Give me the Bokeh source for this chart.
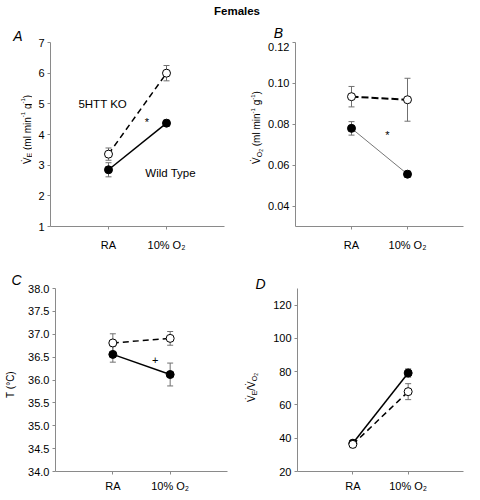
import math
from bokeh.plotting import figure
from bokeh.models import (Range1d, FixedTicker, Whisker, TeeHead, ColumnDataSource,
                          PrintfTickFormatter, Div)
from bokeh.layouts import column, row
from bokeh.core.properties import value
from bokeh.embed import file_html
from bokeh.resources import INLINE

# ---------------- data ----------------
conditions = ["RA", "10% O\u2082"]

ve_wt = [2.85, 4.37]
ve_wt_se = [0.23, 0.10]
ve_ko = [3.36, 6.00]
ve_ko_se = [0.20, 0.25]

vo2_wt = [0.0780, 0.0556]
vo2_wt_se = [0.0033, 0.0015]
vo2_ko = [0.0935, 0.0920]
vo2_ko_se = [0.0050, 0.0105]

t_wt = [36.56, 36.12]
t_wt_se = [0.17, 0.25]
t_ko = [36.81, 36.91]
t_ko_se = [0.20, 0.15]

ratio_wt = [37.0, 79.2]
ratio_wt_se = [1.5, 2.5]
ratio_ko = [36.3, 68.0]
ratio_ko_se = [2.0, 4.8]

ticks_a = [1, 2, 3, 4, 5, 6, 7]
ticks_b = [0.04, 0.06, 0.08, 0.10, 0.12]
ticks_c = [34.0, 34.5, 35.0, 35.5, 36.0, 36.5, 37.0, 37.5, 38.0]
ticks_d = [20, 40, 60, 80, 100, 120]

FONT = "Liberation Sans"
AXC = "#8a8a8a"
ERRC = "#707070"

xpos = list(range(1, len(conditions) + 1))

W = {' ': 278, '(': 333, ')': 333, 'm': 833, 'l': 222, 'i': 222, 'n': 556, 'g': 556,
     '-': 333, '1': 556, 'V': 667, 'E': 667, 'O': 778, '2': 556, 'T': 611, '\u00b0': 400,
     'C': 722, '/': 278, '\u0307': 0}


def tw(s, size):
    return sum(W.get(c, 556) for c in s) / 1000.0 * size


def label_fig(width, height):
    """A frame-only figure whose data units are pixels; holds axis titles and panel letters."""
    p = figure(width=width, height=height, output_backend="svg", toolbar_location=None,
               title=None, frame_align=False,
               x_range=Range1d(0, width), y_range=Range1d(0, height),
               x_axis_location=None, y_axis_location=None,
               min_border_left=0, min_border_right=0, min_border_top=0, min_border_bottom=0)
    p.outline_line_color = None
    p.xgrid.visible = False
    p.ygrid.visible = False
    p.border_fill_color = "white"
    p.background_fill_color = "white"
    return p


def vlabel(p, x, yc, pieces):
    total = sum(tw(t, s) for t, s, d in pieces)
    y = yc - total / 2.0
    xs, ys, ts, ss = [], [], [], []
    for t, s, d in pieces:
        stripped = t.lstrip(" ")
        y += tw(t[:len(t) - len(stripped)], s)
        xs.append(x + d)
        ys.append(y)
        ts.append(stripped)
        ss.append(f"{s}px")
        y += tw(stripped, s)
    src = ColumnDataSource(dict(x=xs, y=ys, text=ts, size=ss))
    p.text(x="x", y="y", text="text", source=src, text_font_size="size", angle=math.pi / 2,
           text_align="left", text_baseline="alphabetic", text_font=value(FONT),
           text_color="black")


def letter(p, x, y, t):
    p.text(x=[x], y=[y], text=[t], text_font=value(FONT), text_font_size="14px",
           text_font_style="italic", text_align="center", text_baseline="middle",
           text_color="black")


def make_fig(width, height, xr_end, yr, yticks, fmt, bl, br, bt, bb, xstandoff):
    p = figure(width=width, height=height, output_backend="svg", toolbar_location=None,
               title=None, frame_align=False,
               x_range=Range1d(0, xr_end), y_range=Range1d(*yr),
               min_border_left=bl, min_border_right=br, min_border_top=bt, min_border_bottom=bb)
    p.outline_line_color = None
    p.xgrid.visible = False
    p.ygrid.visible = False
    p.background_fill_color = "white"
    p.border_fill_color = "white"
    for ax in (p.xaxis[0], p.yaxis[0]):
        ax.axis_line_color = AXC
        ax.major_tick_line_color = AXC
        ax.minor_tick_line_color = None
        ax.major_tick_out = 3
        ax.major_tick_in = 0
        ax.major_label_text_font = FONT
        ax.major_label_text_font_size = "11px"
        ax.major_label_text_color = "black"
    p.xaxis.ticker = FixedTicker(ticks=xpos)
    p.xaxis.major_label_overrides = {x: c for x, c in zip(xpos, conditions)}
    p.xaxis.major_label_standoff = xstandoff
    p.yaxis.ticker = FixedTicker(ticks=yticks)
    p.yaxis.formatter = PrintfTickFormatter(format=fmt)
    p.yaxis.major_label_standoff = 3
    return p


def add_series(p, wt, wt_se, ko, ko_se, wt_color="black", wt_width=1.5, ko_width=1.5,
               ko_dash="6 4"):
    for vals, se in ((wt, wt_se), (ko, ko_se)):
        src = ColumnDataSource(dict(x=xpos, lo=[v - e for v, e in zip(vals, se)],
                                    hi=[v + e for v, e in zip(vals, se)]))
        wk = Whisker(base="x", lower="lo", upper="hi", source=src, line_color=ERRC, line_width=1,
                     level="underlay",
                     upper_head=TeeHead(size=6, line_color=ERRC, line_width=1),
                     lower_head=TeeHead(size=6, line_color=ERRC, line_width=1))
        p.add_layout(wk)
    p.line(xpos, wt, line_color=wt_color, line_width=wt_width)
    p.line(xpos, ko, line_color="black", line_width=ko_width, line_dash=ko_dash)
    p.scatter(xpos, wt, size=8, fill_color="black", line_color="black")
    p.scatter(xpos, ko, size=8, fill_color="white", line_color="black", line_width=1)


def note(p, x, y, t, size="11.5px"):
    p.text(x=[x], y=[y], text=[t], text_font=value(FONT), text_font_size=size,
           text_align="center", text_baseline="middle", text_color="black")


# ---------------- panel A ----------------
lA = label_fig(32, 232)
pA = make_fig(208, 232, 3.0, (1, 7), ticks_a, "%d", 18, 16, 20, 28, 9)
add_series(pA, ve_wt, ve_wt_se, ve_ko, ve_ko_se)
note(pA, 0.90, 5.01, "5HTT KO")
note(pA, 2.07, 2.76, "Wild Type")
note(pA, 1.66, 4.42, "*", "11px")
letter(lA, 17.5, 219, "A")
vlabel(lA, 26.5, 125, [("V\u0307", 10, 0), ("E", 7, 2.5), (" (ml min", 10, 0), ("-1", 6, -4),
                       (" g", 10, 0), ("-1", 6, -4), (")", 10, 0)])

# ---------------- panel B ----------------
lB = label_fig(25, 232)
sB = label_fig(199, 20)
pB = make_fig(199, 212, 3.0, (0.03, 0.12), ticks_b, "%.2f", 30, 1, 0, 28, 9)
add_series(pB, vo2_wt, vo2_wt_se, vo2_ko, vo2_ko_se, wt_color="#777777", wt_width=1,
           ko_width=2, ko_dash="7 3")
note(pB, 1.64, 0.075, "*", "11px")
letter(sB, 13, 10, "B")
vlabel(lB, 16, 127, [("V\u0307", 10, 0), ("O", 7, 2.5), ("2", 5, 4), (" (ml min", 10, 0),
                     ("-1", 6, -4), (" g", 10, 0), ("-1", 6, -4), (")", 10, 0)])

# ---------------- panel C ----------------
lC = label_fig(25, 240)
pC = make_fig(215, 240, 3.0, (34, 38), ticks_c, "%.1f", 30, 13, 34, 22, 5)
add_series(pC, t_wt, t_wt_se, t_ko, t_ko_se)
note(pC, 1.74, 36.43, "+", "11px")
letter(lC, 16, 215, "C")
vlabel(lC, 10, 110, [("T (\u00b0C)", 10, 0)])

# ---------------- panel D ----------------
lD = label_fig(30, 240)
pD = make_fig(194, 240, 3.0, (20, 130), ticks_d, "%d", 24, 1, 34, 22, 5)
add_series(pD, ratio_wt, ratio_wt_se, ratio_ko, ratio_ko_se)
letter(lD, 20, 211, "D")
vlabel(lD, 11, 107, [("V\u0307", 10, 0), ("E", 7, 2.5), ("/", 10, 0), ("V\u0307", 10, 0),
                     ("O", 7, 2.5), ("2", 5, 4)])

title = Div(text="Females", width=464, height=12,
            styles={"text-align": "center", "font-weight": "bold", "font-size": "11.5px",
                    "font-family": FONT, "line-height": "12px", "width": "464px"})

layout = column(title, row(lA, pA, lB, column(sB, pB)), row(lC, pC, lD, pD))

open("out.html", "w").write(file_html(layout, INLINE))
